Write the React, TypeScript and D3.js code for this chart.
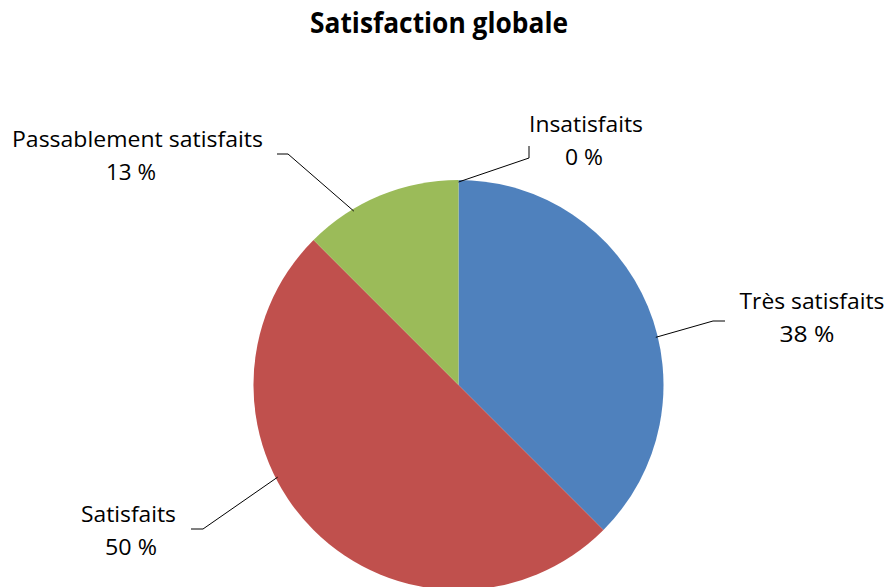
import React from "react";
import * as d3 from "d3";

const categories = ["Très satisfaits", "Satisfaits", "Passablement satisfaits", "Insatisfaits"];
const values = [37.5, 50, 12.5, 0];
const colors = ["#4F81BD", "#C0504D", "#9BBB59", "#8064A2"];
const title = "Satisfaction globale";

// label layout: position of label (center x, baseline of first line), elbow geometry, attach fraction within slice
const layout: Record<string, any> = {
  "Très satisfaits": { cx: 812, cx2: 807, y: 309, w1: 145, w2: 55, t: 0.566, elbow: [713, 321], end: [725, 321] },
  "Satisfaits": { cx: 128.5, cx2: 131, y: 522, w1: 95, w2: 52, t: 0.6, elbow: [203, 529], end: [191, 529] },
  "Passablement satisfaits": { cx: 137.5, cx2: 131, y: 147, w1: 251, w2: 50, t: 0.31, elbow: [288, 154], end: [277, 154] },
  "Insatisfaits": { cx: 586, cx2: 584, y: 132, w1: 114, w2: 38, t: 0, elbow: [529, 158], end: [529, 146] },
};

export default function App() {
  const W = 888, H = 587;
  const cx = 458.5, cy = 385, r = 205;
  const data = categories.map((c, i) => ({ c, v: values[i], color: colors[i] }));
  const pie = d3.pie<any>().value((d) => d.v).sort(null);
  const arcs = pie(data);
  const arc = d3.arc<any>().innerRadius(0).outerRadius(r);
  const font = "'Open Sans', 'Liberation Sans', sans-serif";

  return (
    <svg width={W} height={H} style={{ position: "absolute", left: 0, top: 0, background: "#fff" }}>
      <rect width={W} height={H} fill="#fff" />
      <text x={439} y={33} textAnchor="middle" fontFamily={font} fontWeight="bold" fontSize={28}
        textLength={258} lengthAdjust="spacingAndGlyphs" fill="#000">{title}</text>
      <g transform={`translate(${cx},${cy})`}>
        {arcs.map((a, i) => (
          <path key={i} d={arc(a) || ""} fill={a.data.color} stroke="none" />
        ))}
      </g>
      {arcs.map((a, i) => {
        const L = layout[a.data.c];
        const ang = a.startAngle + L.t * (a.endAngle - a.startAngle);
        const rr = r - 2;
        const px = cx + rr * Math.sin(ang);
        const py = cy - rr * Math.cos(ang);
        const pct = Math.round(a.data.v) + " %";
        return (
          <g key={"l" + i}>
            <polyline points={`${px},${py} ${L.elbow[0]},${L.elbow[1]} ${L.end[0]},${L.end[1]}`}
              fill="none" stroke="#000" strokeWidth={1} />
            <text x={L.cx} y={L.y} textAnchor="middle" fontFamily={font} fontSize={22}
              textLength={L.w1} lengthAdjust="spacingAndGlyphs" fill="#000">{a.data.c}</text>
            <text x={L.cx2} y={L.y + 33} textAnchor="middle" fontFamily={font} fontSize={22}
              textLength={L.w2} lengthAdjust="spacingAndGlyphs" fill="#000">{pct}</text>
          </g>
        );
      })}
    </svg>
  );
}
